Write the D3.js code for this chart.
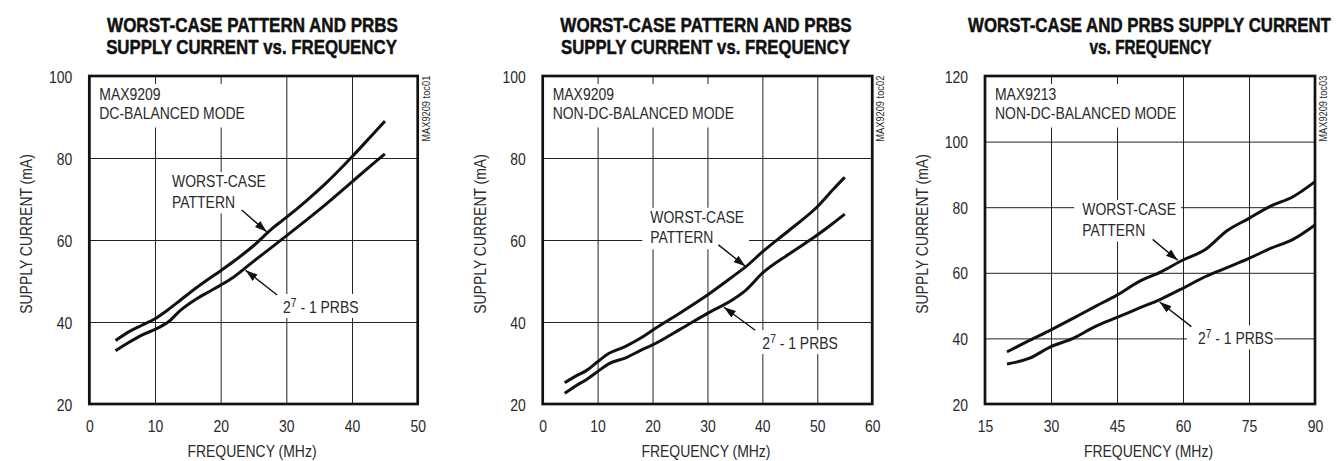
<!DOCTYPE html>
<html>
<head>
<meta charset="utf-8">
<script src="https://cdn.jsdelivr.net/npm/d3@7"></script>
<style>
  body { margin: 0; background: #fff; }
  text { font-family: "Liberation Sans Narrow", "Arial Narrow", "Liberation Sans", Arial, sans-serif; fill: #2a2a2a; }
</style>
</head>
<body>
<svg id="chart"></svg>
<script>
// ---- data ----
// panel 1 : MAX9209, DC-balanced mode
const freq1  = [4, 6, 8, 10, 12, 14, 16, 18, 20, 22, 25, 28, 30, 33, 36, 40, 43, 45];
const worst1 = [35.5, 37.6, 39.2, 40.8, 43, 45.5, 48, 50.3, 52.5, 54.8, 58.6, 63, 65.5, 69.5, 73.8, 80.3, 85.5, 89];
const prbs1  = [33, 35, 36.8, 38.2, 40, 43, 45.3, 47.2, 49, 51, 54.8, 58.5, 61, 64.8, 68.7, 74.2, 78.3, 81];
// panel 2 : MAX9209, non-DC-balanced mode
const freq2  = [4, 6, 8, 10, 12, 15, 18, 20, 25, 30, 35, 37, 40, 45, 50, 53, 55];
const worst2 = [25.2, 26.8, 28.2, 30.3, 32.3, 34, 36.2, 38, 42.2, 46.6, 51.5, 53.5, 57.1, 62.5, 68.1, 72.5, 75.3];
const prbs2  = [22.6, 24.4, 26, 27.9, 29.8, 31.2, 33.2, 34.4, 38.2, 42.1, 45.8, 47.8, 51.9, 56.7, 61.2, 64.2, 66.3];
// panel 3 : MAX9213, non-DC-balanced mode
const freq3  = [20, 25, 30, 35, 40, 45, 50, 55, 60, 65, 70, 75, 80, 85, 90];
const worst3 = [35.9, 39.3, 42.6, 46.1, 49.7, 53.2, 57.3, 60.3, 63.9, 67, 72.8, 76.6, 80.4, 83.2, 87.8];
const prbs3  = [32.2, 33.9, 37.5, 40, 43.6, 46.4, 49.2, 52, 55.3, 58.8, 61.6, 64.4, 67.5, 70.2, 74.6];

const xTicks1 = [0, 10, 20, 30, 40, 50];
const xTicks2 = [0, 10, 20, 30, 40, 50, 60];
const xTicks3 = [15, 30, 45, 60, 75, 90];
const yTicks1 = [20, 40, 60, 80, 100];
const yTicks3 = [20, 40, 60, 80, 100, 120];

const titles1 = ['WORST-CASE PATTERN AND PRBS', 'SUPPLY CURRENT vs. FREQUENCY'];
const titles3 = ['WORST-CASE AND PRBS SUPPLY CURRENT', 'vs. FREQUENCY'];
const yLabel = 'SUPPLY CURRENT (mA)';
const xLabel = 'FREQUENCY (MHz)';
const worstText = ['WORST-CASE', 'PATTERN'];

// ---- layout ----
const W = 1341, H = 461;
const plotTop = 76, plotBottom = 404;
const squeeze = 0.82;   // no condensed font installed, so squeeze the regular one

const panels = [
  { left: 89.3, right: 417.7, xDomain: [0, 50], yDomain: [20, 100], xTicks: xTicks1, yTicks: yTicks1,
    freq: freq1, worst: worst1, prbs: prbs1,
    titles: titles1, titleX: [252.5, 251.5], titleW: [291, 291],
    note: ['MAX9209', 'DC-BALANCED MODE'], side: 'MAX9209 toc01',
    worstLab: [12.6, 72.9], worstArrow: [[23.2, 67.3], [27.0, 62.0]],
    prbsLab: [29.5, 42.2], prbsArrow: [[28.6, 46.6], [23.8, 52.6]] },
  { left: 542.7, right: 872.2, xDomain: [0, 60], yDomain: [20, 100], xTicks: xTicks2, yTicks: yTicks1,
    freq: freq2, worst: worst2, prbs: prbs2,
    titles: titles1, titleX: [706, 705.5], titleW: [291.5, 289],
    note: ['MAX9209', 'NON-DC-BALANCED MODE'], side: 'MAX9209 toc02',
    worstLab: [19.6, 64.2], worstArrow: [[32.0, 58.8], [36.9, 53.6]],
    prbsLab: [40.0, 33.4], prbsArrow: [[38.7, 38.0], [33.0, 43.6]] },
  { left: 985, right: 1315, xDomain: [15, 90], yDomain: [20, 120], xTicks: xTicks3, yTicks: yTicks3,
    freq: freq3, worst: worst3, prbs: prbs3,
    titles: titles3, titleX: [1149.5, 1150.5], titleW: [363, 122],
    note: ['MAX9213', 'NON-DC-BALANCED MODE'], side: 'MAX9209 toc03',
    worstLab: [37.1, 77.6], worstArrow: [[53.1, 70.2], [58.8, 63.8]],
    prbsLab: [63.4, 38.2], prbsArrow: [[61.9, 43.6], [54.7, 51.1]] }
];

const svg = d3.select('#chart').attr('width', W).attr('height', H);
svg.append('rect').attr('width', W).attr('height', H).attr('fill', '#fff');

svg.append('defs').append('marker')
  .attr('id', 'arrow')
  .attr('viewBox', '0 -5 12 10')
  .attr('refX', 12).attr('refY', 0)
  .attr('markerWidth', 12).attr('markerHeight', 10)
  .attr('markerUnits', 'userSpaceOnUse')
  .attr('orient', 'auto')
  .append('path').attr('d', 'M0,-4L12,0L0,4Z').attr('fill', '#111');

// squeeze texts horizontally
function narrow(sel) {
  sel.each(function () {
    const len = this.getComputedTextLength();
    d3.select(this).attr('textLength', len * squeeze).attr('lengthAdjust', 'spacingAndGlyphs');
  });
  return sel;
}

panels.forEach(drawPanel);

function drawPanel(p) {
  const x = d3.scaleLinear().domain(p.xDomain).range([p.left, p.right]);
  const y = d3.scaleLinear().domain(p.yDomain).range([plotBottom, plotTop]);
  const g = svg.append('g');

  // title, two lines; scaled to the width of the heavy condensed original
  p.titles.forEach((t, i) => {
    const tt = g.append('text')
      .attr('text-anchor', 'middle')
      .style('font-size', '20px').style('font-weight', 'bold')
      .style('fill', '#111').style('stroke', '#111').style('stroke-width', 0.5)
      .text(t);
    const sx = p.titleW[i] / tt.node().getComputedTextLength();
    tt.attr('transform', `translate(${p.titleX[i]},${31.7 + i * 22.5}) scale(${sx},1)`);
  });

  // grid + tick labels
  const xAxis = g.append('g')
    .attr('transform', `translate(0,${plotBottom})`)
    .call(d3.axisBottom(x).tickValues(p.xTicks).tickSize(-(plotBottom - plotTop)).tickPadding(15.5));
  const yAxis = g.append('g')
    .attr('transform', `translate(${p.left},0)`)
    .call(d3.axisLeft(y).tickValues(p.yTicks).tickSize(-(p.right - p.left)).tickPadding(17));
  [xAxis, yAxis].forEach(a => {
    a.attr('font-family', null).attr('font-size', null);
    a.select('.domain').remove();
    a.selectAll('.tick line').attr('stroke', '#222').attr('stroke-width', 1);
    a.selectAll('.tick text').style('font-size', '17px').attr('fill', null);
    narrow(a.selectAll('.tick text'));
  });
  yAxis.selectAll('.tick text').attr('dy', '0.36em');

  // axis titles
  narrow(g.append('text')
    .attr('transform', `translate(${p.left - 57},234) rotate(-90)`)
    .attr('text-anchor', 'middle')
    .style('font-size', '17px')
    .text(yLabel));
  narrow(g.append('text')
    .attr('x', (p.left + p.right) / 2 - 1.5).attr('y', 457)
    .attr('text-anchor', 'middle')
    .style('font-size', '17px')
    .text(xLabel));

  // side code
  g.append('text')
    .attr('transform', `translate(${p.right + 12},141.7) rotate(-90)`)
    .attr('textLength', 66).attr('lengthAdjust', 'spacingAndGlyphs')
    .style('font-size', '10.5px')
    .text(p.side);

  // labels with white boxes that hide the grid behind them
  function masked(build, pad) {
    const lg = g.append('g');
    const box = lg.append('rect').attr('fill', '#fff');
    const tg = lg.append('g');
    build(tg);
    narrow(tg.selectAll('text'));
    const b = tg.node().getBBox();
    box.attr('x', b.x - pad[3]).attr('y', b.y - pad[0])
      .attr('width', b.width + pad[1] + pad[3]).attr('height', b.height + pad[0] + pad[2]);
  }

  masked(lg => {
    p.note.forEach((t, i) => {
      lg.append('text').attr('x', p.left + 10).attr('y', 100 + i * 18.5)
        .style('font-size', '17px').text(t);
    });
  }, [1, 6, 5, 6]);

  masked(lg => {
    worstText.forEach((t, i) => {
      lg.append('text').attr('x', x(p.worstLab[0])).attr('y', y(p.worstLab[1]) + i * 20.5)
        .style('font-size', '17px').text(t);
    });
  }, [0, 5, 2, 8]);

  masked(lg => {
    const t = lg.append('text').attr('x', x(p.prbsLab[0])).attr('y', y(p.prbsLab[1]))
      .style('font-size', '17px');
    t.append('tspan').text('2');
    t.append('tspan').attr('dy', -6).style('font-size', '12.5px').text('7');
    t.append('tspan').attr('dy', 6).text(' - 1 PRBS');
  }, [2, 1, 1, 11]);

  // arrows
  [p.worstArrow, p.prbsArrow].forEach(a => {
    g.append('line')
      .attr('x1', x(a[0][0])).attr('y1', y(a[0][1]))
      .attr('x2', x(a[1][0])).attr('y2', y(a[1][1]))
      .attr('stroke', '#111').attr('stroke-width', 1.4)
      .attr('marker-end', 'url(#arrow)');
  });

  // curves
  const line = d3.line()
    .x(d => x(d[0])).y(d => y(d[1]))
    .curve(d3.curveMonotoneX);
  [p.worst, p.prbs].forEach(s => {
    g.append('path')
      .datum(p.freq.map((f, i) => [f, s[i]]))
      .attr('d', line)
      .attr('fill', 'none').attr('stroke', '#111').attr('stroke-width', 3);
  });

  // frame
  g.append('rect')
    .attr('x', p.left).attr('y', plotTop)
    .attr('width', p.right - p.left).attr('height', plotBottom - plotTop)
    .attr('fill', 'none').attr('stroke', '#111').attr('stroke-width', 2.7);
}
</script>
</body>
</html>
